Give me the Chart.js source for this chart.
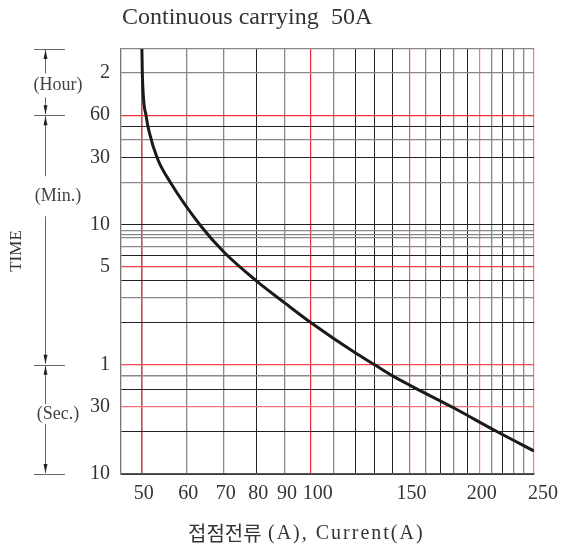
<!DOCTYPE html>
<html>
<head>
<meta charset="utf-8">
<script src="https://cdn.jsdelivr.net/npm/chart.js@4.4.1/dist/chart.umd.min.js"></script>
<style>
  html, body { margin: 0; padding: 0; background: #fff; }
  #wrap { width: 561px; height: 550px; }
</style>
</head>
<body>
<div id="wrap"><canvas id="curve" width="561" height="550"></canvas></div>
<script>
// current (A) vs. time (seconds)
const currentA = [50.0, 50.1, 50.9, 51.45, 53.3, 56.3, 63.7, 70, 80, 90, 100, 120, 130, 140, 150, 178.6, 215, 250];
const timeSec  = [11500, 7100, 3530, 2810, 1770, 1185, 585, 382, 238, 165, 120, 73, 60, 50, 43, 30, 20, 14.6];

// grid lines of the sheet
const xGrid = [50, 60, 70, 80, 90, 100, 110, 120, 130, 140, 150, 160, 170, 180, 190, 200, 210, 220, 230, 240, 250];
const xLabels = [50, 60, 70, 80, 90, 100, 150, 200, 250];
const yGrid = [10670, 7200, 3600, 3000, 2400, 1800, 1200, 600, 540, 510, 480, 420, 360, 300, 240, 180, 120, 60, 50, 40, 30, 20, 10];
const yLabelValues = [7200, 3600, 1800, 600, 300, 60, 30, 10];
const yLabelTexts  = ['2', '60', '30', '10', '5', '1', '30', '10'];

// the left side brackets: from, to, text, where the text sits
const spans = [
    { from: 10670, to: 3600, text: '(Hour)', at: 5870, gap: 12 },
    { from: 3600, to: 60, text: '(Min.)', at: 952, gap: 20 },
    { from: 60, to: 10, text: '(Sec.)', at: 26.7, gap: 10 }
];

const xRed = { 50: '#c24a54', 100: '#ee2630', 150: '#f2505a', 200: '#f47a82', 250: '#f47a82' };
const xGray = [60, 70, 90, 110, 160, 180, 210, 230, 240];
const yRed = { 3600: '#f0303c', 300: '#f0404c', 60: '#f04a56', 30: '#f4747c' };
const yGray = [10670, 7200, 2400, 1200, 540, 510, 480, 420, 180, 50];

const SERIF = '"Liberation Serif", "DejaVu Serif", serif';
const KR = '"Noto Sans CJK KR", sans-serif';

function gridColor(v, red, gray) {
    if (red[v]) return red[v];
    if (gray.includes(v)) return '#888888';
    return '#222222';
}
function gridWidth(v, red, gray) {
    if (v === 50) return 1.6;
    if (red[v]) return 1.2;
    if (gray.includes(v)) return 1.3;
    return 1;
}

// a little nudge of some x labels, like on the sheet
function xLabelText(v) {
    if (v === 100) return '\u2002' + v;
    if (v === 250) return '\u2002\u2009' + v;
    return String(v);
}

function arrow(ctx, x, tipY, dir) {
    // dir = -1 points up, +1 points down
    ctx.beginPath();
    ctx.moveTo(x, tipY);
    ctx.lineTo(x - 2, tipY - dir * 9);
    ctx.lineTo(x + 2, tipY - dir * 9);
    ctx.closePath();
    ctx.fill();
}

const sheetText = {
    id: 'sheetText',
    afterDraw(chart) {
        const ctx = chart.ctx;
        const y = chart.scales.y;
        ctx.save();
        ctx.fillStyle = '#333';
        ctx.textBaseline = 'alphabetic';
        ctx.textAlign = 'left';
        ctx.font = '24px ' + SERIF;
        ctx.fillText('Continuous carrying', 122, 24);
        ctx.fillText('50A', 331, 24);

        // x title: hangul part, then the latin part a bit spaced out
        ctx.textBaseline = 'middle';
        ctx.font = '20px ' + KR;
        ctx.fillText('접점전류', 188, 533);
        ctx.font = '20px ' + SERIF;
        ctx.letterSpacing = '2px';
        ctx.fillText('(A), Current(A)', 268, 534);
        ctx.letterSpacing = '0px';

        // y title
        ctx.save();
        ctx.translate(17, 251);
        ctx.rotate(-Math.PI / 2);
        ctx.textAlign = 'center';
        ctx.font = '17px ' + SERIF;
        ctx.fillText('TIME', 0, 0);
        ctx.restore();

        // brackets
        const lx = 45.5;
        ctx.strokeStyle = '#666';
        ctx.lineWidth = 1;
        [10670, 3600, 60, 10].forEach(v => {
            const py = Math.round(y.getPixelForValue(v)) + 0.5;
            ctx.beginPath();
            ctx.moveTo(34, py);
            ctx.lineTo(65, py);
            ctx.stroke();
        });
        spans.forEach(s => {
            const top = y.getPixelForValue(s.from);
            const bot = y.getPixelForValue(s.to);
            const mid = y.getPixelForValue(s.at);
            ctx.strokeStyle = '#666';
            ctx.beginPath();
            ctx.moveTo(lx, top + 1);
            ctx.lineTo(lx, mid - s.gap);
            ctx.moveTo(lx, mid + s.gap);
            ctx.lineTo(lx, bot - 1);
            ctx.stroke();
            ctx.fillStyle = '#222';
            arrow(ctx, lx, top + 1, -1);
            arrow(ctx, lx, bot - 1, 1);
            ctx.fillStyle = '#444';
            ctx.font = '18px ' + SERIF;
            ctx.textAlign = 'center';
            ctx.textBaseline = 'middle';
            ctx.fillText(s.text, 58, mid);
        });
        ctx.restore();
    }
};

new Chart(document.getElementById('curve'), {
    type: 'line',
    data: {
        datasets: [{
            data: currentA.map((a, i) => ({ x: a, y: timeSec[i] })),
            borderColor: '#1a1a1a',
            borderWidth: 3,
            pointRadius: 0,
            fill: false,
            cubicInterpolationMode: 'monotone'
        }]
    },
    options: {
        responsive: false,
        animation: false,
        layout: { padding: { top: 49, right: 27, left: 0, bottom: 0 } },
        plugins: {
            legend: { display: false },
            tooltip: { enabled: false },
            title: { display: false }
        },
        scales: {
            x: {
                type: 'logarithmic',
                min: 45.9,
                max: 250,
                afterBuildTicks: scale => { scale.ticks = xGrid.map(v => ({ value: v })); },
                afterFit: scale => {
                    scale.height = 76;
                    scale.paddingLeft = 0;
                    scale.paddingRight = 0;
                },
                ticks: {
                    autoSkip: false,
                    maxRotation: 0,
                    padding: 8,
                    labelOffset: 2,
                    color: '#333',
                    font: { family: SERIF, size: 20 },
                    callback: v => xLabels.includes(v) ? xLabelText(v) : ''
                },
                grid: {
                    drawTicks: false,
                    color: c => gridColor(c.tick.value, xRed, xGray),
                    lineWidth: c => gridWidth(c.tick.value, xRed, xGray)
                },
                border: { display: true, color: '#555', width: 1.5 }
            },
            y: {
                type: 'logarithmic',
                min: 10,
                max: 10670,
                afterBuildTicks: scale => { scale.ticks = yGrid.map(v => ({ value: v })); },
                afterFit: scale => {
                    scale.width = 121;
                    scale.paddingTop = 0;
                    scale.paddingBottom = 0;
                },
                ticks: {
                    autoSkip: false,
                    padding: 11,
                    color: '#333',
                    font: { family: SERIF, size: 20 },
                    callback: v => {
                        const i = yLabelValues.indexOf(v);
                        return i >= 0 ? yLabelTexts[i] : '';
                    }
                },
                grid: {
                    drawTicks: false,
                    color: c => gridColor(c.tick.value, yRed, yGray),
                    lineWidth: c => gridWidth(c.tick.value, yRed, yGray)
                },
                border: { display: true, color: '#777', width: 1.3 }
            }
        }
    },
    plugins: [sheetText]
});
</script>
</body>
</html>
